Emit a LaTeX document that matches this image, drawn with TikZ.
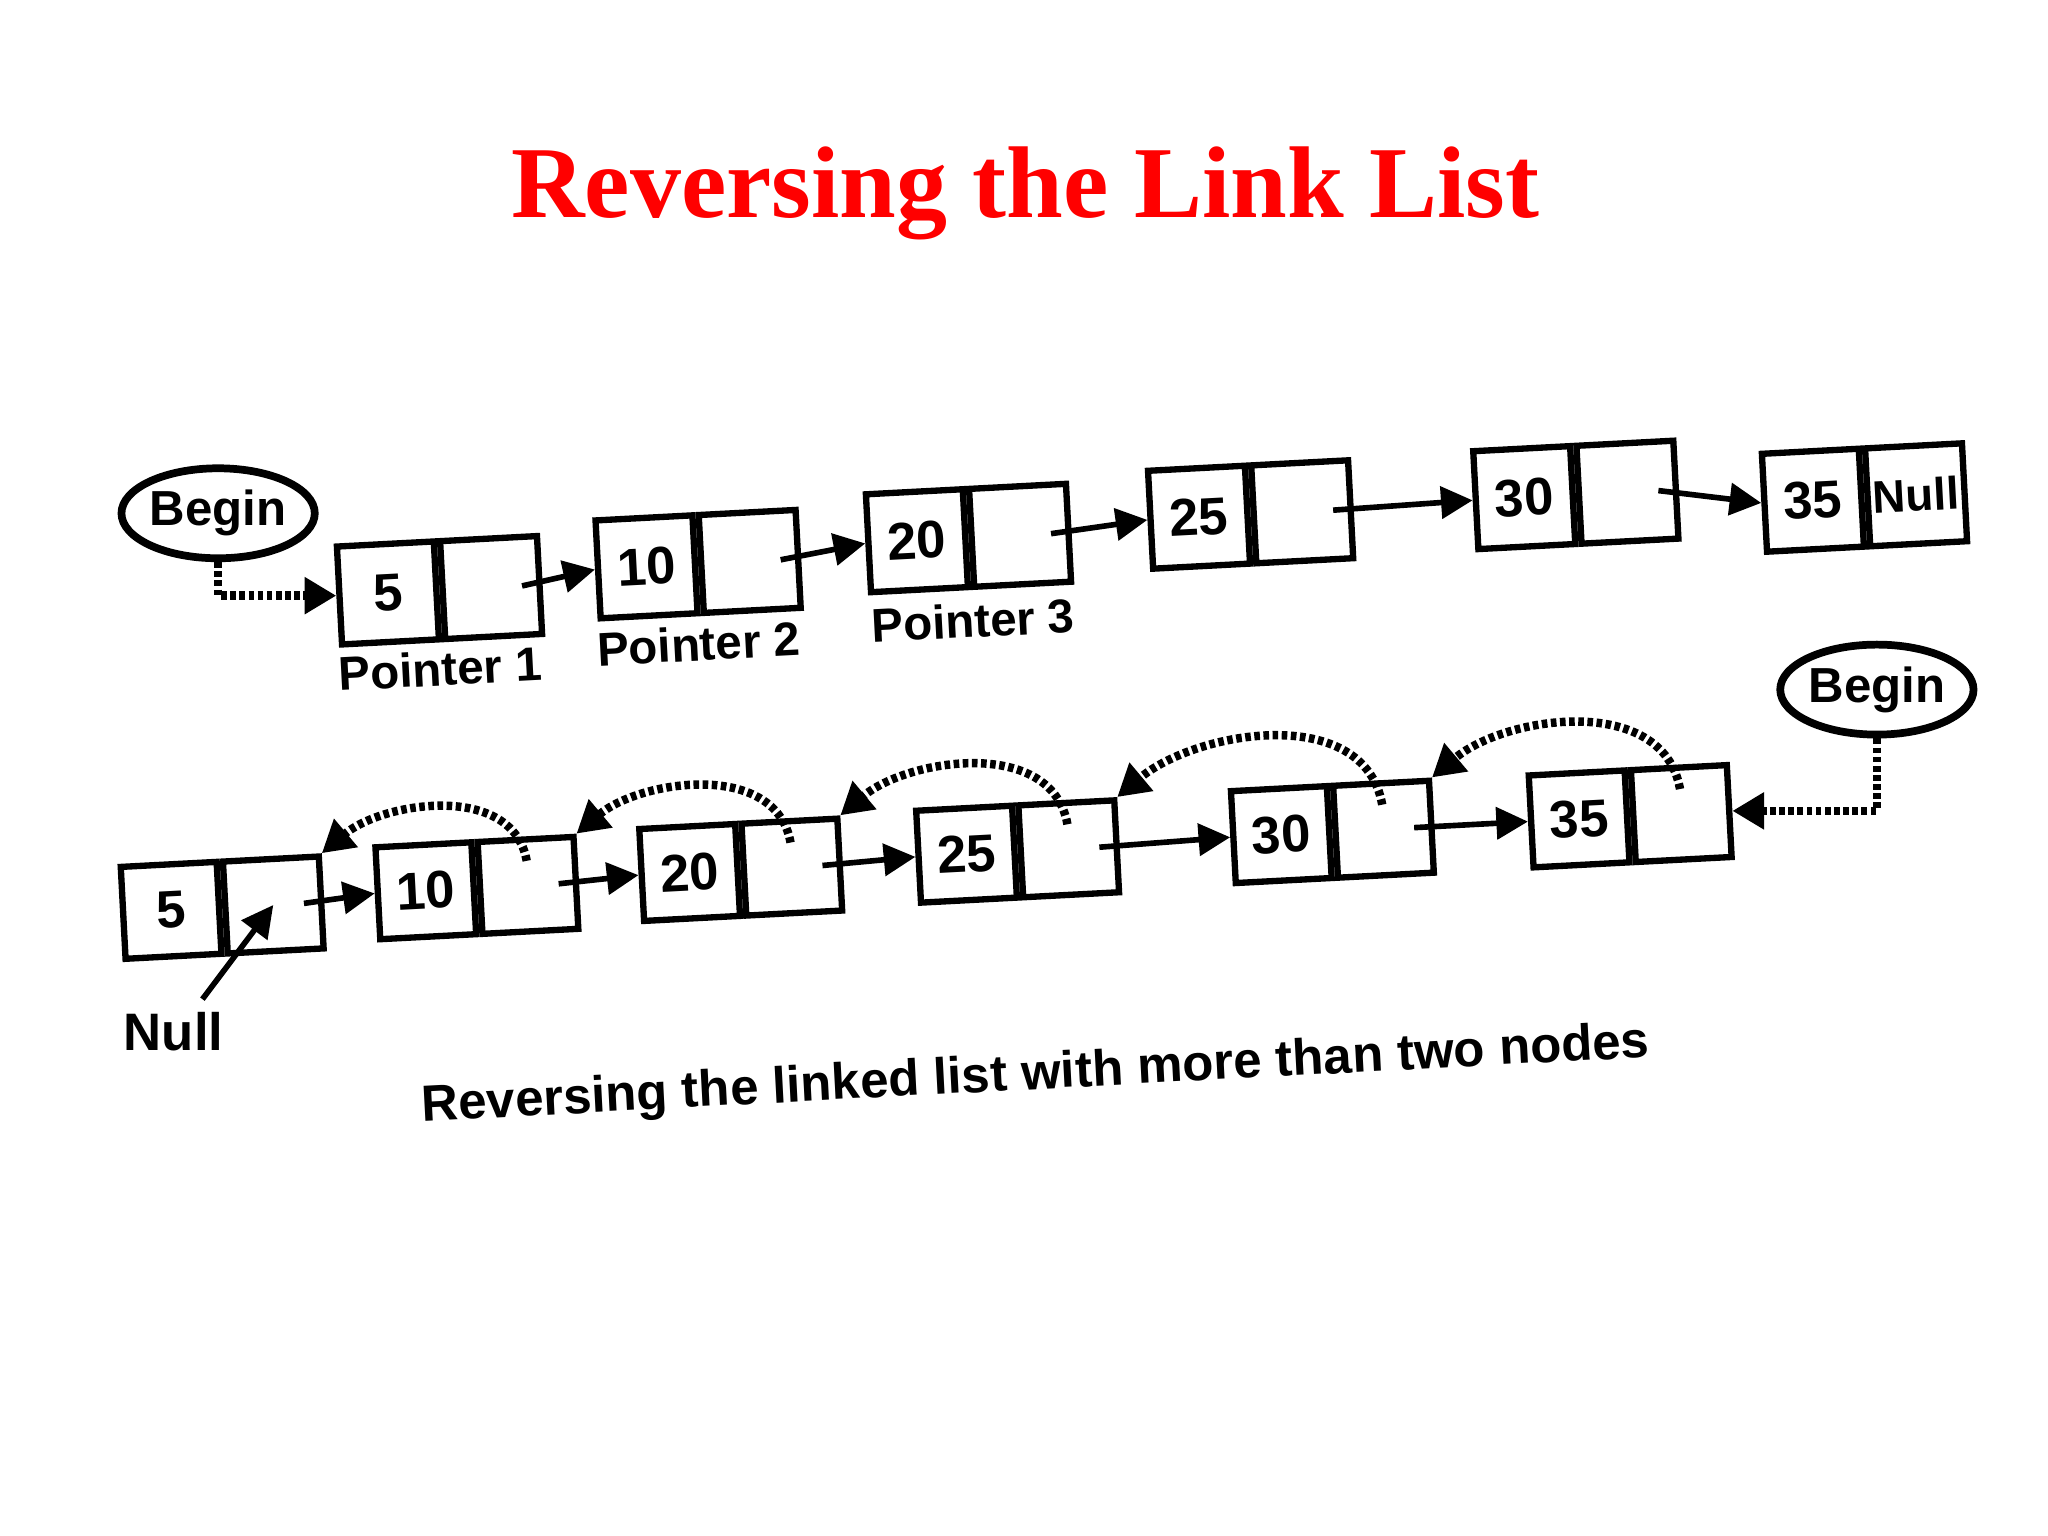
\documentclass[tikz,border=0pt]{standalone}
\usepackage{fontspec}
\setmainfont{Liberation Serif}
\newfontfamily\lblfont{Liberation Sans}
\usetikzlibrary{arrows.meta,shapes.geometric,calc}
\begin{document}
\begin{tikzpicture}[x=0.01306cm,y=0.01306cm,
  dcell/.style={draw,line width=1.8pt,minimum width=0.97cm,minimum height=0.98cm,inner sep=0pt,font=\lblfont\bfseries\fontsize{15}{15}\selectfont,rotate=3},
  dcellb/.style={dcell,minimum width=0.96cm,minimum height=0.92cm},
  nxt/.style={line width=1.6pt,-{Triangle[length=9pt,width=9pt]}},
  back/.style={line width=2.4pt,dash pattern=on 1.6pt off 1pt,-{Triangle[length=9pt,width=10pt]}},
  beg/.style={draw,ellipse,line width=2.2pt,minimum width=1.9cm,minimum height=0.9cm,inner sep=0pt,font=\lblfont\bfseries\fontsize{14}{14}\selectfont},
  lbl/.style={font=\lblfont\bfseries\fontsize{13.5}{13.5}\selectfont,rotate=3}]
\useasboundingbox (0,0) rectangle (1568,1176);
\node[text=red,font=\bfseries\fontsize{29}{29}\selectfont] (title) at (785,1028) {Reversing the Link List};
% top row
\foreach \n/\x/\y in {5/297/722,10/495/742,20/702/762,25/918/780,30/1167/795,35/1388/793}{
  \node[dcell] (d\n) at (\x,\y) {\n};
}
\foreach \n in {5,10,20,25,30}{ \node[dcell,anchor=west] (p\n) at (d\n.east) {}; }
\node[dcell,anchor=west,font=\lblfont\bfseries\fontsize{13}{13}\selectfont] (p35) at (d35.east) {Null};
\node[beg] (b1) at (167,783) {Begin};
\draw[back] (b1.south) |- (d5.west);
\draw[nxt] ($(p5.center)!0.6!(p5.east)$) -- (d10.west);
\draw[nxt] ($(p10.center)!0.6!(p10.east)$) -- (d20.west);
\draw[nxt] ($(p20.center)!0.6!(p20.east)$) -- (d25.west);
\draw[nxt] ($(p25.center)!0.6!(p25.east)$) -- (d30.west);
\draw[nxt] ($(p30.center)!0.6!(p30.east)$) -- (d35.west);
\node[lbl] (l1) at (337,664) {Pointer 1};
\node[lbl] (l2) at (535,683) {Pointer 2};
\node[lbl] (l3) at (745,701) {Pointer 3};
% bottom row
\foreach \n/\x/\y in {5/131/479,10/326/494,20/528/508,25/740/522,30/981/537,35/1209/549}{
  \node[dcellb] (e\n) at (\x,\y) {\n};
  \node[dcellb,anchor=west] (q\n) at (e\n.east) {};
}
\node[beg] (b2) at (1437,648) {Begin};
\draw[back] (b2.south) |- (q35.east);
\draw[nxt] ($(q5.center)!0.6!(q5.east)$) -- (e10.west);
\draw[nxt] ($(q10.center)!0.6!(q10.east)$) -- (e20.west);
\draw[nxt] ($(q20.center)!0.6!(q20.east)$) -- (e25.west);
\draw[nxt] ($(q25.center)!0.6!(q25.east)$) -- (e30.west);
\draw[nxt] ($(q30.center)!0.6!(q30.east)$) -- (e35.west);
\draw[back] ($(q10.center)!0.5!(q10.north)$) to[out=100,in=40] (q5.north east);
\draw[back] ($(q20.center)!0.5!(q20.north)$) to[out=100,in=40] (q10.north east);
\draw[back] ($(q25.center)!0.5!(q25.north)$) to[out=100,in=40] (q20.north east);
\draw[back] ($(q30.center)!0.5!(q30.north)$) to[out=100,in=40] (q25.north east);
\draw[back] ($(q35.center)!0.5!(q35.north)$) to[out=100,in=40] (q30.north east);
\node[font=\lblfont\bfseries\fontsize{15}{15}\selectfont] (nl) at (133,386) {Null};
\coordinate (ns) at (155,411);
\draw[line width=1.6pt,-{Triangle[length=9pt,width=9pt]}] (ns) -- (q5.center);
\node[lbl,font=\lblfont\bfseries\fontsize{14.5}{14.5}\selectfont] (cap) at (793,352) {Reversing the linked list with more than two nodes};
\end{tikzpicture}
\end{document}
